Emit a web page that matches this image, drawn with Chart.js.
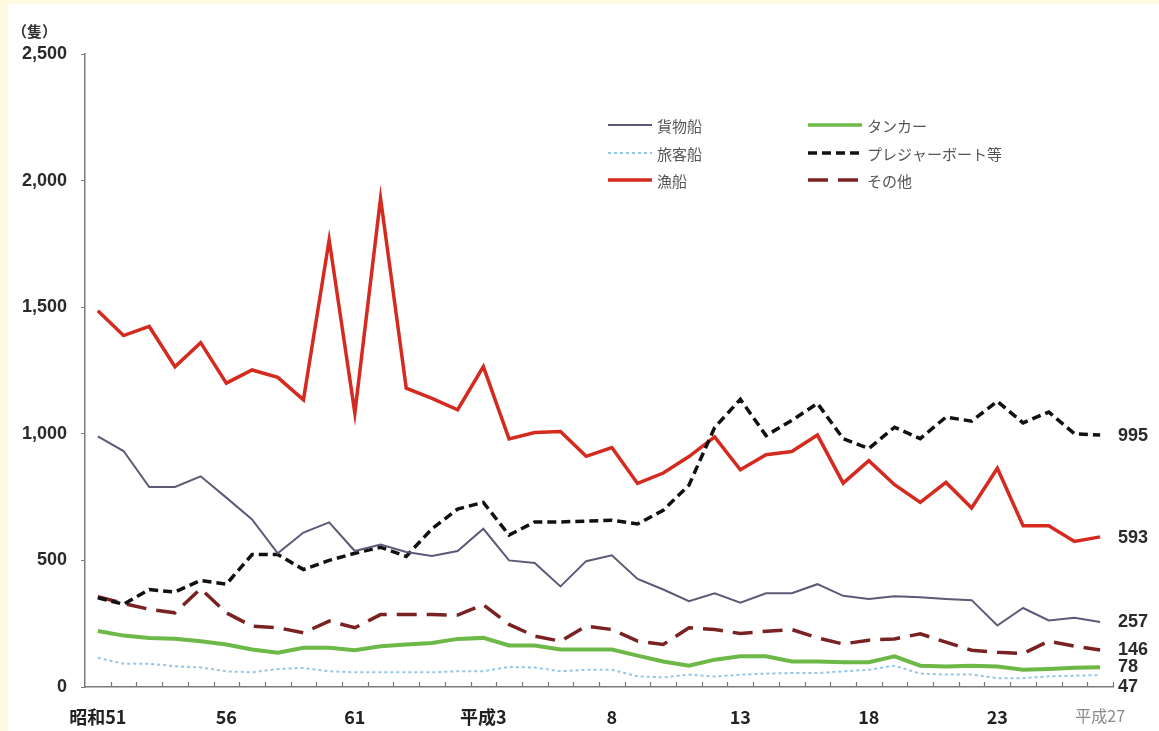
<!DOCTYPE html>
<html>
<head>
<meta charset="utf-8">
<script src="https://cdn.jsdelivr.net/npm/chart.js@4/dist/chart.umd.min.js"></script>
<style>
  html, body { margin: 0; padding: 0; background: #fffbe0; }
  #paper { position: absolute; left: 8px; top: 4px; width: 1151px; height: 727px; background: #ffffff; }
  #wrap { position: absolute; left: 0; top: 0; width: 1159px; height: 731px; }
</style>
</head>
<body>
<div id="paper"></div>
<div id="wrap"><canvas id="c" width="1159" height="731"></canvas></div>
<script>
// ---- data ----
const categories = ['昭和51','52','53','54','55','56','57','58','59','60','61','62','63',
  '平成元','2','3','4','5','6','7','8','9','10','11','12','13','14','15','16','17','18','19','20','21','22','23','24','25','26','平成27'];
const tickLabels = ['昭和51','','','','','56','','','','','61','','','','','平成3','','','','','8','','','','','13','','','','','18','','','','','23','','','','平成27'];
const yTicks = [0, 500, 1000, 1500, 2000, 2500];

const cargo     = [990,932,790,790,832,748,662,528,610,650,537,563,533,517,537,625,500,490,397,497,520,427,385,339,370,333,370,370,406,360,348,358,354,348,343,243,312,263,273,257];
const tanker    = [221,203,194,191,181,168,148,135,155,155,145,161,168,174,190,194,164,164,148,148,148,124,101,84,108,121,121,101,101,98,98,121,84,81,84,81,68,71,76,78];
const passenger = [115,92,92,82,77,62,58,71,75,62,58,58,58,58,62,62,79,77,62,68,68,42,38,49,41,49,53,55,55,62,68,84,53,49,49,35,35,42,45,47];
const pleasure  = [352,327,385,375,421,406,523,523,464,500,528,552,516,625,703,729,600,652,652,655,659,644,698,797,1025,1136,993,1053,1120,981,942,1026,981,1066,1050,1128,1043,1086,1000,995];
const fishing   = [1486,1388,1424,1265,1360,1200,1252,1223,1134,1766,1082,1930,1180,1140,1095,1265,980,1005,1009,911,946,804,845,910,988,858,917,930,995,805,894,799,729,808,707,864,637,637,575,593];
const other     = [357,330,307,293,388,293,240,234,214,260,234,286,286,286,284,325,247,201,181,240,227,181,168,234,227,211,220,227,194,170,185,190,210,177,145,137,132,181,161,146];

const seriesNames = ['貨物船','タンカー','旅客船','プレジャーボート等','漁船','その他'];
const endLabels   = ['257','78','47','995','593','146'];

// ---- plugins ----
const xTickPlugin = {
  id: 'xInwardTicks',
  afterDraw(chart) {
    const xs = chart.scales.x, ctx = chart.ctx;
    const step = xs.getPixelForValue(1) - xs.getPixelForValue(0);
    const bottom = chart.chartArea.bottom;
    ctx.save();
    ctx.strokeStyle = '#777';
    ctx.lineWidth = 1.2;
    for (let i = 1; i <= categories.length; i++) {
      const x = Math.round(xs.getPixelForValue(i) - step / 2) + 0.5;
      ctx.beginPath();
      ctx.moveTo(x, bottom);
      ctx.lineTo(x, bottom - 5);
      ctx.stroke();
    }
    ctx.restore();
  }
};

const endLabelPlugin = {
  id: 'endLabels',
  afterDatasetsDraw(chart) {
    const ctx = chart.ctx, ys = chart.scales.y;
    const nudge = [0, 0, 12, 1, 1, 0];
    ctx.save();
    ctx.font = 'bold 18px "Liberation Sans", Arial, sans-serif';
    ctx.fillStyle = '#2a2a2a';
    ctx.textBaseline = 'middle';
    ctx.textAlign = 'left';
    chart.data.datasets.forEach((ds, i) => {
      const v = ds.data[ds.data.length - 1];
      const y = ys.getPixelForValue(v) + nudge[i];
      ctx.fillText(endLabels[i], chart.chartArea.right + 5, y);
    });
    ctx.restore();
  }
};

const legendPlugin = {
  id: 'customLegend',
  afterDraw(chart) {
    const ctx = chart.ctx;
    const order = [[0, 1], [2, 3], [4, 5]];
    const colX = [[608, 652], [808, 862]];
    const rowY = [125, 153, 180];
    ctx.save();
    ctx.font = '15px "Noto Sans CJK JP", sans-serif';
    ctx.textBaseline = 'middle';
    order.forEach((row, r) => {
      row.forEach((di, c) => {
        const ds = chart.data.datasets[di];
        ctx.strokeStyle = ds.borderColor;
        ctx.lineWidth = Math.min(ds.borderWidth, 3.5);
        ctx.setLineDash(ds.borderDash || []);
        ctx.beginPath();
        ctx.moveTo(colX[c][0], rowY[r]);
        ctx.lineTo(colX[c][1], rowY[r]);
        ctx.stroke();
        ctx.setLineDash([]);
        ctx.fillStyle = '#555';
        ctx.fillText(ds.label, colX[c][1] + 5, rowY[r] + 1);
      });
    });
    ctx.font = 'bold 15px "Noto Sans CJK JP", sans-serif';
    ctx.fillStyle = '#333';
    ctx.textAlign = 'left';
    ctx.fillText('（隻）', 12, 31);
    ctx.restore();
  }
};

const mk = (label, data, color, width, dash) => ({
  label, data, borderColor: color, backgroundColor: color, borderWidth: width,
  borderDash: dash, pointRadius: 0, tension: 0, fill: false, borderJoinStyle: 'miter'
});

new Chart(document.getElementById('c'), {
  type: 'line',
  data: {
    labels: categories,
    datasets: [
      mk(seriesNames[0], cargo, '#5b5b78', 2, []),
      mk(seriesNames[1], tanker, '#6cb947', 4, []),
      mk(seriesNames[2], passenger, '#93c6e6', 2, [3, 3]),
      mk(seriesNames[3], pleasure, '#111111', 3.5, [9, 5]),
      mk(seriesNames[4], fishing, '#d42a1f', 3.5, []),
      mk(seriesNames[5], other, '#7a2222', 3.5, [20, 10])
    ]
  },
  options: {
    responsive: false,
    animation: false,
    layout: { padding: { left: 0, right: 46, top: 54, bottom: 0 } },
    plugins: { legend: { display: false }, tooltip: { enabled: false } },
    scales: {
      x: {
        offset: true,
        grid: { display: false },
        border: { display: true, color: '#7a7a7a', width: 1.5 },
        ticks: {
          autoSkip: false, maxRotation: 0, minRotation: 0, padding: 11,
          callback: (v, i) => tickLabels[i],
          color: (c) => c.index === 39 ? '#8a8a8a' : '#222',
          font: (c) => c.index === 39
            ? { family: '"Noto Sans CJK JP", sans-serif', size: 16, weight: 'normal' }
            : { family: '"Noto Sans CJK JP", sans-serif', size: 18, weight: 'bold' }
        },
        afterFit: (s) => { s.height = 44; }
      },
      y: {
        min: 0, max: 2500,
        afterBuildTicks: (s) => { s.ticks = yTicks.map(v => ({ value: v })); },
        grid: { drawOnChartArea: false, drawTicks: true, tickLength: 4, color: '#7a7a7a' },
        border: { display: true, color: '#7a7a7a', width: 1.5 },
        ticks: {
          padding: 14, color: '#2a2a2a',
          font: { family: '"Liberation Sans", Arial, sans-serif', size: 18, weight: 'bold' },
          callback: (v) => v.toLocaleString('en-US')
        },
        afterFit: (s) => { s.width = 85; }
      }
    }
  },
  plugins: [xTickPlugin, endLabelPlugin, legendPlugin]
});
</script>
</body>
</html>
